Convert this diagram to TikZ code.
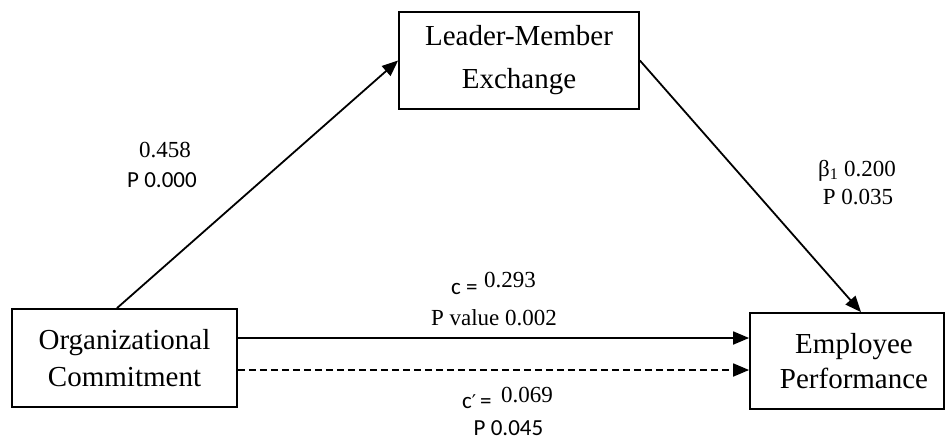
\documentclass[tikz,border=0pt]{standalone}
\usepackage{fontspec}
\setmainfont{Liberation Serif}
\newfontfamily\carlito{Carlito}
\newfontfamily\primefont{DejaVu Sans}
\usetikzlibrary{arrows.meta}
\tikzset{
  varbox/.style={draw, line width=1.8pt, inner sep=0pt, align=center},
  conn/.style={line width=1.8pt, -{Triangle[length=16pt,width=13pt]}},
  lbl/.style={inner sep=0pt, anchor=base, font=\fontsize{23}{27}\selectfont},
}
\begin{document}
\begin{tikzpicture}[x=1pt,y=-1pt]
\useasboundingbox (0,0) rectangle (945,444);
% boxes
\node[varbox, minimum width=225pt, minimum height=98pt,
      font=\fontsize{29}{37}\selectfont] (oc) at (124.5,358) {Organizational\\Commitment};
\node[varbox, minimum width=240pt, minimum height=97pt,
      font=\fontsize{29}{43}\selectfont] (lmx) at (519,60.5) {Leader-Member\\Exchange};
\node[varbox, minimum width=194pt, minimum height=96pt,
      font=\fontsize{29}{35}\selectfont] (ep) at (847,361) {\hspace*{14pt}Employee\\\hspace*{14pt}Performance};
% connectors
\draw[conn] ([xshift=-7.5pt]oc.north) -- (lmx.west);
\draw[conn] (lmx.east) -- ([xshift=14pt]ep.north);
\draw[conn] ([yshift=20pt]oc.east) -- ([yshift=20pt]oc.east -| ep.west);
\draw[conn, dash pattern=on 7pt off 4pt] ([yshift=-12pt]oc.east) -- ([yshift=-12pt]oc.east -| ep.west);
% labels
\node[lbl] (a1) at (165,157) {0.458};
\node[lbl] (a2) at (162,187) {\carlito P 0.000};
\node[lbl] (b1) at (857,176) {β\textsubscript{1} 0.200};
\node[lbl] (b2) at (858,204) {P 0.035};
\node[lbl, anchor=base west] (c1) at (451,294) {\carlito c =};
\node[lbl, anchor=base west] (c2) at (484,287) {0.293};
\node[lbl] (c3) at (494,325) {P value 0.002};
\node[lbl, anchor=base west] (d1) at (462,408) {\carlito c{\primefont\fontsize{19}{23}\selectfont ′}\,=};
\node[lbl, anchor=base west] (d2) at (501,402) {0.069};
\node[lbl] (d3) at (508.5,435) {\carlito P 0.045};
\end{tikzpicture}
\end{document}
